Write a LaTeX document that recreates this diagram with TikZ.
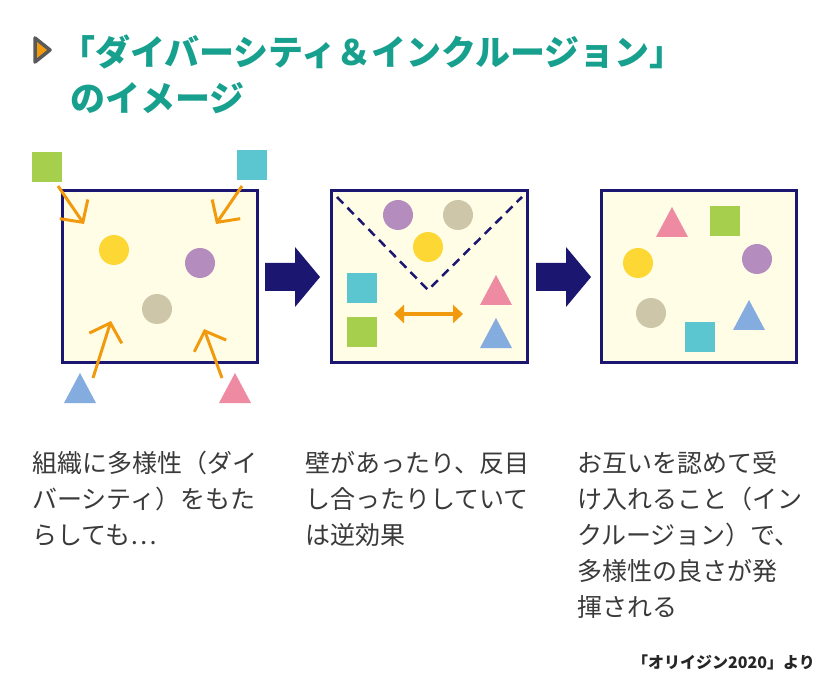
\documentclass[tikz,border=0pt]{standalone}
\usepackage{fontspec}
\setmainfont{Noto Sans CJK JP}
\usetikzlibrary{arrows.meta}
\definecolor{navy}{HTML}{1B1670}
\definecolor{fillc}{HTML}{FFFDE6}
\definecolor{teal}{HTML}{17A08E}
\definecolor{org}{HTML}{F29A0E}
\definecolor{cyel}{HTML}{FDD835}
\definecolor{cpur}{HTML}{B58CBE}
\definecolor{cbei}{HTML}{CDC6A8}
\definecolor{cgrn}{HTML}{A6CF4E}
\definecolor{ccya}{HTML}{5BC5D0}
\definecolor{cblu}{HTML}{84ACDE}
\definecolor{cpnk}{HTML}{EE8AA2}
\definecolor{txt}{HTML}{3A3A3A}
\tikzset{
 panel/.style={draw=navy,line width=3pt,fill=fillc},
 circ/.style={circle,minimum size=30pt,inner sep=0pt},
 sq/.style={minimum size=30pt,inner sep=0pt},
 oarr/.style={draw=org,line width=3pt,-{Straight Barb[length=16pt,width=34pt,line width=3pt]}},
 body/.style={anchor=base west,inner sep=0pt,font=\fontsize{25}{30}\selectfont,text=txt},
 ttl/.style={anchor=base west,inner sep=0pt,text=teal,font=\fontsize{35}{40}\selectfont\bfseries},
}
\newcommand{\tri}[3]{\fill[#3] (#1-16,#2+15) -- (#1+16,#2+15) -- (#1,#2-15) -- cycle;}
\newcommand{\bigarr}[1]{\fill[navy] (#1,263) -- (#1+30,263) -- (#1+30,247) -- (#1+55,277) -- (#1+30,307) -- (#1+30,291) -- (#1,291) -- cycle;}
\begin{document}
\begin{tikzpicture}[x=1pt,y=-1pt]
\useasboundingbox[fill=white] (0,0) rectangle (840,700);
% title
\filldraw[fill=org,draw=gray!70!black,line width=3.5pt,line join=round] (35,38) -- (50,50) -- (35,62) -- cycle;
\node[ttl] (t1) at (60,66) {「ダイバーシティ＆インクルージョン」};
\node[ttl] (t2) at (70,112) {のイメージ};
% panels
\draw[panel] (62,191) rectangle (257,362);
\draw[panel] (331,191) rectangle (527,362);
\draw[panel] (601,191) rectangle (796,362);
\bigarr{265}
\bigarr{536}
% panel 1
\node[sq,fill=cgrn] (g1) at (47,167) {};
\node[sq,fill=ccya] (c1) at (252,165) {};
\node[circ,fill=cyel] at (114,250) {};
\node[circ,fill=cpur] at (200,263) {};
\node[circ,fill=cbei] at (157,309) {};
\tri{80}{388}{cblu}
\tri{235}{388}{cpnk}
\coordinate (a1s) at (58,186); \coordinate (a1e) at (84,224);
\coordinate (a2s) at (242,186); \coordinate (a2e) at (216,224);
\coordinate (a3s) at (93,378); \coordinate (a3e) at (111,321);
\coordinate (a4s) at (222,378); \coordinate (a4e) at (204,329);
\draw[oarr] (a1s) -- (a1e);
\draw[oarr] (a2s) -- (a2e);
\draw[oarr] (a3s) -- (a3e);
\draw[oarr] (a4s) -- (a4e);
% panel 2
\draw[navy,line width=2.5pt,dash pattern=on 9pt off 6pt] (337,197) -- (428,290) -- (522,197);
\node[circ,fill=cpur] at (398,215) {};
\node[circ,fill=cbei] at (458,215) {};
\node[circ,fill=cyel] at (428,247) {};
\node[sq,fill=ccya] at (362,288) {};
\node[sq,fill=cgrn] at (362,332) {};
\tri{496}{290}{cpnk}
\tri{496}{333}{cblu}
\coordinate (d1) at (394,314); \coordinate (d2) at (463,314);
\draw[draw=org,line width=4pt,{Triangle[length=10pt,width=18pt]}-{Triangle[length=10pt,width=18pt]}] (d1) -- (d2);
% panel 3
\tri{672}{222}{cpnk}
\node[sq,fill=cgrn] at (725,221) {};
\node[circ,fill=cyel] at (638,263) {};
\node[circ,fill=cpur] at (757,259) {};
\node[circ,fill=cbei] at (651,313) {};
\node[sq,fill=ccya] at (700,337) {};
\tri{749}{315}{cblu}
% texts
\node[body] (l11) at (32,472) {組織に多様性（ダイ};
\node[body] (l12) at (32,508) {バーシティ）をもた};
\node[body] (l13) at (32,544) {らしても…};
\node[body] (l21) at (305,472) {壁があったり、反目};
\node[body] (l22) at (305,508) {し合ったりしていて};
\node[body] (l23) at (305,544) {は逆効果};
\node[body] (l31) at (577,472) {お互いを認めて受};
\node[body] (l32) at (577,508) {け入れること（イン};
\node[body] (l33) at (577,544) {クルージョン）で、};
\node[body] (l34) at (577,580) {多様性の良さが発};
\node[body] (l35) at (577,616) {揮される};
\node[anchor=base east,inner sep=0pt,font=\fontsize{16}{19}\selectfont\bfseries,text=black!85] (src) at (815,668) {「オリイジン2020」より};
\end{tikzpicture}
\end{document}
